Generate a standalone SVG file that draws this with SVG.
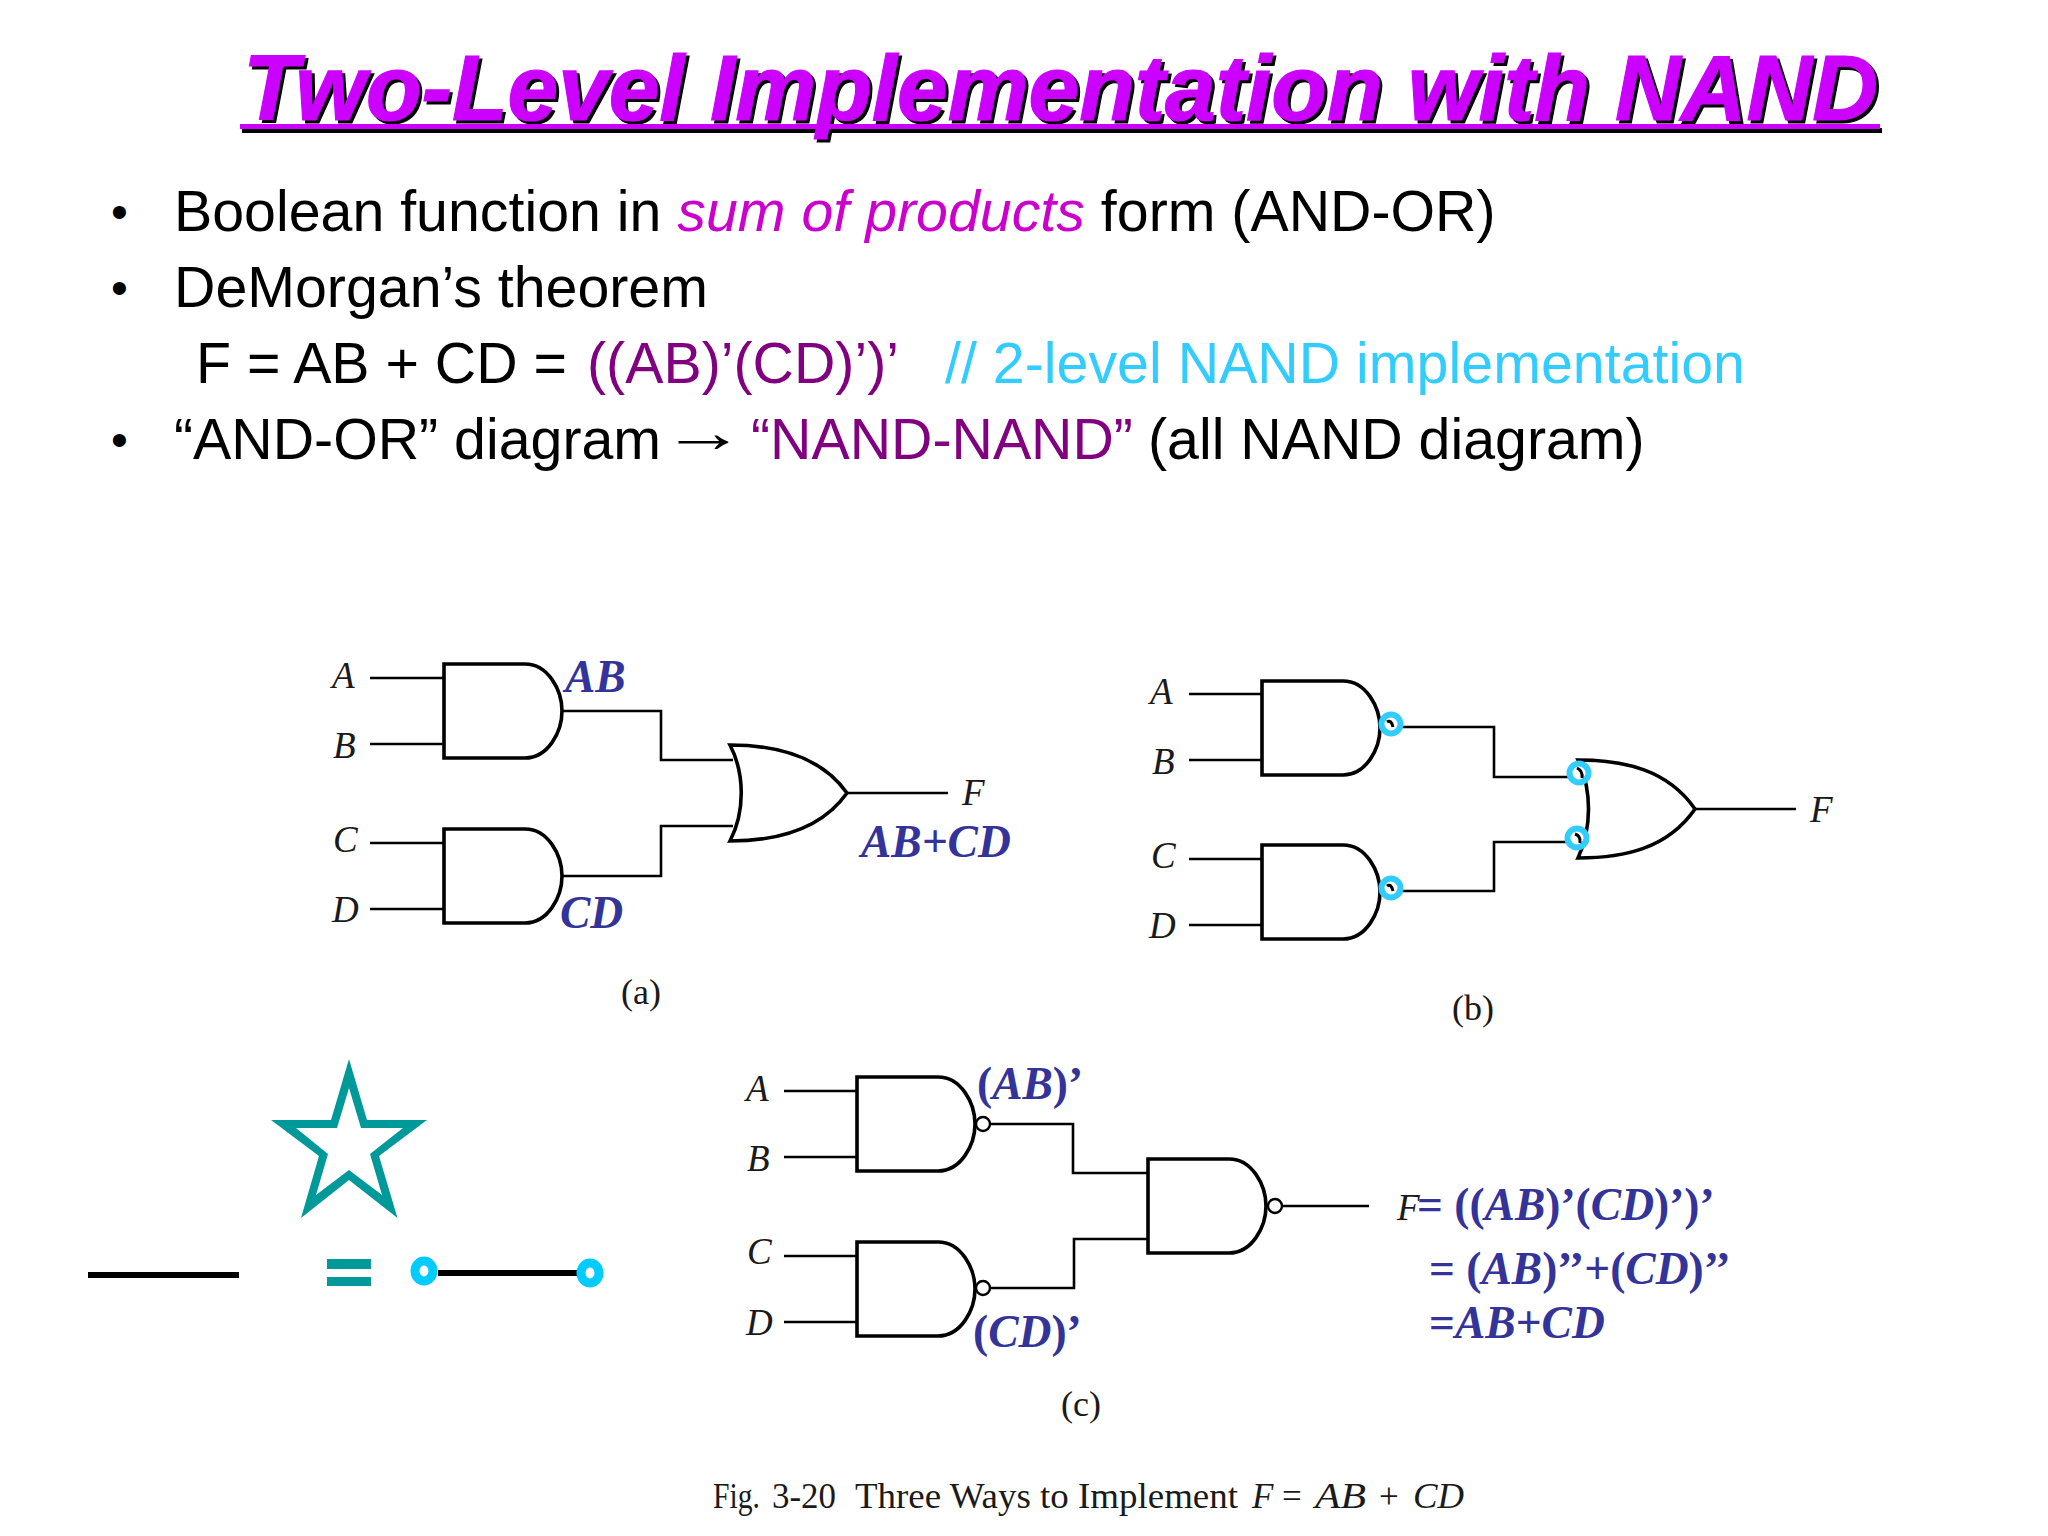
<svg xmlns="http://www.w3.org/2000/svg" xmlns:xlink="http://www.w3.org/1999/xlink" width="2048" height="1536" viewBox="0 0 2048 1536">
<style>
.body{font-family:"Liberation Sans",Arial,sans-serif;font-size:57.300px;fill:#000}
.bullet{font-family:"Liberation Sans",Arial,sans-serif;font-size:48px;fill:#000}
.title{font-family:"Liberation Sans",Arial,sans-serif;font-size:92px;font-weight:bold;font-style:italic;stroke-width:1.200px}
.sig{font-family:"Liberation Serif","Times New Roman",serif;font-size:37px;font-style:italic;fill:#1a1a1a}
.cap{font-family:"Liberation Serif","Times New Roman",serif;font-size:36px;fill:#1a1a1a}
.fig{font-family:"Liberation Serif","Times New Roman",serif;font-size:35px;fill:#1a1a1a}
.blue{font-family:"Liberation Serif","Times New Roman",serif;font-size:45.500px;font-weight:bold;font-style:italic;fill:#333399}
.up{font-style:normal}
.gate{fill:#fff;stroke:#000;stroke-width:3.6;stroke-linejoin:miter}
.wire{fill:none;stroke:#000;stroke-width:2.6}
.bub{fill:#fff;stroke:#000;stroke-width:2.4}
.arc{fill:none;stroke:#000;stroke-width:3}
.ring{fill:#fff;stroke:#33ccff;stroke-width:6}
.ring2{fill:#fff;stroke:#00ccff;stroke-width:9}
.teal{fill:#009999}
</style>
<defs>
<path id="and" d="M0 0H81C104 0 118 26 118 47C118 68 104 94 81 94H0Z"/>
</defs>
<rect width="2048" height="1536" fill="#fff"/>
<g id="title">
<text class="title" x="246" y="123" fill="#000" stroke="#000" textLength="1635" lengthAdjust="spacingAndGlyphs">Two-Level Implementation with NAND</text>
<rect x="242" y="128" width="1640" height="5" fill="#000"/>
<text class="title" x="243" y="120" fill="#cc00ff" stroke="#cc00ff" textLength="1635" lengthAdjust="spacingAndGlyphs">Two-Level Implementation with NAND</text>
<rect x="240" y="124" width="1640" height="5" fill="#cc00ff"/>
</g>
<g id="bullets">
<text class="bullet" x="111" y="228">•</text>
<text class="body" x="174" y="231">Boolean function in <tspan fill="#cc00cc" font-style="italic">sum of products</tspan> form (AND-OR)</text>
<text class="bullet" x="111" y="304">•</text>
<text class="body" x="174" y="307">DeMorgan’s theorem</text>
<text class="body" x="196" y="383">F = AB + CD = </text>
<text class="body" x="587" y="383" style="fill:#800080" textLength="312" lengthAdjust="spacingAndGlyphs">((AB)’(CD)’)’</text>
<text class="body" x="945" y="383" style="fill:#33ccff" textLength="800" lengthAdjust="spacingAndGlyphs">// 2-level NAND implementation</text>
<text class="bullet" x="111" y="456">•</text>
<text class="body" x="174" y="459">“AND-OR” diagram</text>
<text class="body" transform="translate(661,452) scale(1.47,1)">→</text>
<text class="body" x="751" y="459" style="fill:#800080">“NAND-NAND”</text>
<text class="body" x="1148" y="459">(all NAND diagram)</text>
</g>
<g id="connectors">
<path class="wire" d="M370 678H444M370 744H444M370 843H444M370 909H444M562 711H661V760H733M562 876H661V826H733M847 793H948"/>
<path class="wire" d="M1189 694H1262M1189 760H1262M1189 859H1262M1189 925H1262M1391 727H1494V777H1569M1391 891H1494V842H1566M1695 809H1796"/>
<path class="wire" d="M784 1091H857M784 1157H857M784 1256H857M784 1322H857M990 1124H1073V1173H1148M990 1288H1074V1239H1148M1283 1206H1369"/>
<path d="M438 1273H577" fill="none" stroke="#000" stroke-width="6"/>
</g>
<g id="gate-a1"><use xlink:href="#and" class="gate" x="444" y="664"/></g>
<g id="gate-a2"><use xlink:href="#and" class="gate" x="444" y="829"/></g>
<g id="gate-a3"><path class="gate" d="M730 745C775 745 820 755 847 793C820 831 775 841 730 841C745 812 745 774 730 745Z"/></g>
<g id="gate-b1"><use xlink:href="#and" class="gate" x="1262" y="681"/><circle class="ring" cx="1391" cy="724" r="9.500"/><path class="arc" d="M1387 722Q1391 719 1393 727"/></g>
<g id="gate-b2"><use xlink:href="#and" class="gate" x="1262" y="845"/><circle class="ring" cx="1391" cy="888" r="9.500"/><path class="arc" d="M1387 886Q1391 883 1393 891"/></g>
<g id="gate-b3"><path class="gate" d="M1578 760C1625 760 1668 770 1695 809C1668 848 1625 858 1578 858C1592 828 1592 790 1578 760Z"/><circle class="ring" cx="1579" cy="773" r="9.500"/><path class="arc" d="M1577 768Q1583 771 1582 778"/><circle class="ring" cx="1577" cy="838" r="9.500"/><path class="arc" d="M1575 834Q1581 836 1580 843"/></g>
<g id="gate-c1"><use xlink:href="#and" class="gate" x="857" y="1077"/><circle class="bub" cx="983" cy="1124" r="7"/></g>
<g id="gate-c2"><use xlink:href="#and" class="gate" x="857" y="1242"/><circle class="bub" cx="983" cy="1288" r="7"/></g>
<g id="gate-c3"><use xlink:href="#and" class="gate" x="1148" y="1159"/><circle class="bub" cx="1275" cy="1206" r="7"/></g>
<g id="labels-a">
<text class="sig" x="332" y="688">A</text><text class="sig" x="333" y="758">B</text><text class="sig" x="333" y="852">C</text><text class="sig" x="332" y="922">D</text><text class="sig" x="962" y="805">F</text>
<text class="blue" x="565" y="692">AB</text><text class="blue" x="560" y="928">CD</text><text class="blue" x="861" y="857">AB+CD</text>
<text class="cap" x="641" y="1004" text-anchor="middle">(a)</text>
</g>
<g id="labels-b">
<text class="sig" x="1150" y="704">A</text><text class="sig" x="1152" y="774">B</text><text class="sig" x="1151" y="868">C</text><text class="sig" x="1149" y="938">D</text><text class="sig" x="1810" y="822">F</text>
<text class="cap" x="1473" y="1020" text-anchor="middle">(b)</text>
</g>
<g id="labels-c">
<text class="sig" x="746" y="1101">A</text><text class="sig" x="747" y="1171">B</text><text class="sig" x="747" y="1264">C</text><text class="sig" x="746" y="1335">D</text>
<text class="blue" x="977" y="1099"><tspan class="up">(</tspan>AB<tspan class="up">)’</tspan></text>
<text class="blue" x="973" y="1347"><tspan class="up">(</tspan>CD<tspan class="up">)’</tspan></text>
<text class="cap" x="1081" y="1416" text-anchor="middle">(c)</text>
<text class="sig" x="1397" y="1220">F</text>
<text class="blue" x="1417" y="1220"><tspan class="up">= ((</tspan>AB<tspan class="up">)’(</tspan>CD<tspan class="up">)’)’</tspan></text>
<text class="blue" x="1429" y="1284"><tspan class="up">= (</tspan>AB<tspan class="up">)’’+(</tspan>CD<tspan class="up">)’’</tspan></text>
<text class="blue" x="1429" y="1338"><tspan class="up">=</tspan>AB<tspan class="up">+</tspan>CD</text>
</g>
<g id="legend">
<path class="teal" fill-rule="evenodd" d="M349 1059L367 1120H427L379 1156L397.500 1218L349 1180L301 1218L319 1156L271 1120H331ZM349 1088L337 1128H296L328 1154L316 1195L349 1170L382 1195L370 1154L403 1128H361Z"/>
<rect x="88" y="1272" width="151" height="6" fill="#000"/>
<rect class="teal" x="327" y="1259" width="44" height="10"/>
<rect class="teal" x="327" y="1277" width="44" height="9"/>
<ellipse class="ring2" cx="424" cy="1271" rx="9" ry="10"/>
<ellipse class="ring2" cx="590" cy="1273" rx="9" ry="10"/>
</g>
<g id="caption">
<text class="fig" x="713" y="1508" textLength="47" lengthAdjust="spacingAndGlyphs">Fig.</text>
<text class="fig" x="772" y="1508" textLength="64" lengthAdjust="spacingAndGlyphs">3-20</text>
<text class="fig" x="855" y="1508" textLength="383" lengthAdjust="spacingAndGlyphs">Three Ways to Implement</text>
<text class="fig" x="1252" y="1508" font-style="italic">F</text>
<text class="fig" x="1282" y="1508">=</text>
<text class="fig" x="1315" y="1508" font-style="italic" textLength="51" lengthAdjust="spacingAndGlyphs">AB</text>
<text class="fig" x="1379" y="1508">+</text>
<text class="fig" x="1413" y="1508" font-style="italic" textLength="51" lengthAdjust="spacingAndGlyphs">CD</text>
</g>
</svg>
